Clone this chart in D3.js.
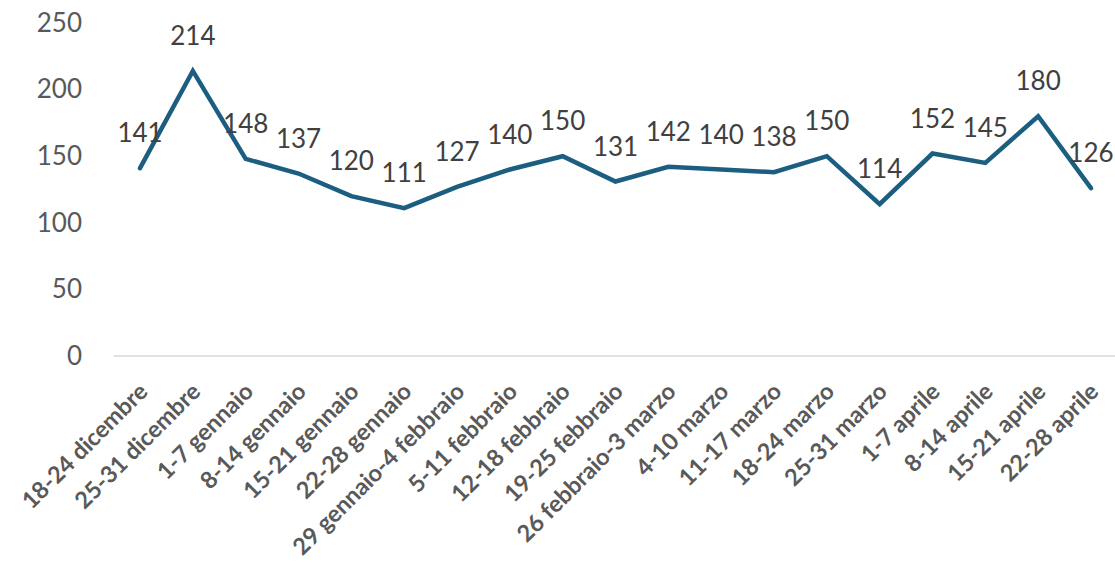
<!DOCTYPE html>
<html><head><meta charset="utf-8">
<script src="https://cdn.jsdelivr.net/npm/d3@7"></script>
<style>body{margin:0;background:#fff}svg{display:block}</style>
</head><body>
<script>
const categories = ["18-24 dicembre","25-31 dicembre","1-7 gennaio","8-14 gennaio","15-21 gennaio","22-28 gennaio","29 gennaio-4 febbraio","5-11 febbraio","12-18 febbraio","19-25 febbraio","26 febbraio-3 marzo","4-10 marzo","11-17 marzo","18-24 marzo","25-31 marzo","1-7 aprile","8-14 aprile","15-21 aprile","22-28 aprile"];
const values = [141,214,148,137,120,111,127,140,150,131,142,140,138,150,114,152,145,180,126];
const yTicks = [0,50,100,150,200,250];

(function () {
const W = 1115, H = 563;
const mLeft = 113.6, mRight = 1117.4, mTop = 23, mBottom = 356;
const font = "Lato, 'Open Sans', sans-serif";

const svg = d3.select("body").append("svg").attr("width", W).attr("height", H);
const x = d3.scaleBand().domain(categories).range([mLeft, mRight]);
const y = d3.scaleLinear().domain([0, 250]).range([mBottom, mTop]);

// axis line
svg.append("line").attr("x1", mLeft).attr("x2", W).attr("y1", y(0)).attr("y2", y(0))
  .attr("stroke", "#d9d9d9").attr("stroke-width", 1.5);

// y axis labels
const yAxis = d3.axisLeft(y).tickValues(yTicks).tickSize(0).tickPadding(0);
const gy = svg.append("g").attr("transform", `translate(82,0)`).call(yAxis);
gy.select(".domain").remove();
gy.selectAll("text").attr("font-family", font).attr("font-size", 26).attr("fill", "#595959").attr("text-anchor", "end");

// x axis labels
const xAxis = d3.axisBottom(x).tickSize(0).tickPadding(0);
const gx = svg.append("g").attr("transform", `translate(0,${y(0)})`).call(xAxis);
gx.select(".domain").remove();
gx.selectAll("text")
  .attr("font-family", font).attr("font-size", 23.5).attr("font-weight", "bold").attr("fill", "#595959")
  .attr("text-anchor", "end").attr("dy", 0).attr("y", 0)
  .attr("transform", "translate(9,37) rotate(-45)");

// line
const cx = d => x(d) + x.bandwidth() / 2;
const line = d3.line().x((d, i) => cx(categories[i])).y(d => y(d));
svg.append("path").datum(values).attr("d", line).attr("fill", "none")
  .attr("stroke", "#1b5e7f").attr("stroke-width", 4.5).attr("stroke-linejoin", "miter").attr("stroke-linecap", "round");

// data labels
svg.append("g").selectAll("text").data(values).join("text")
  .attr("x", (d, i) => cx(categories[i])).attr("y", d => y(d) - 26)
  .attr("text-anchor", "middle").attr("font-family", font).attr("font-size", 26).attr("fill", "#404040")
  .text(d => d);
})();
</script>
</body></html>
